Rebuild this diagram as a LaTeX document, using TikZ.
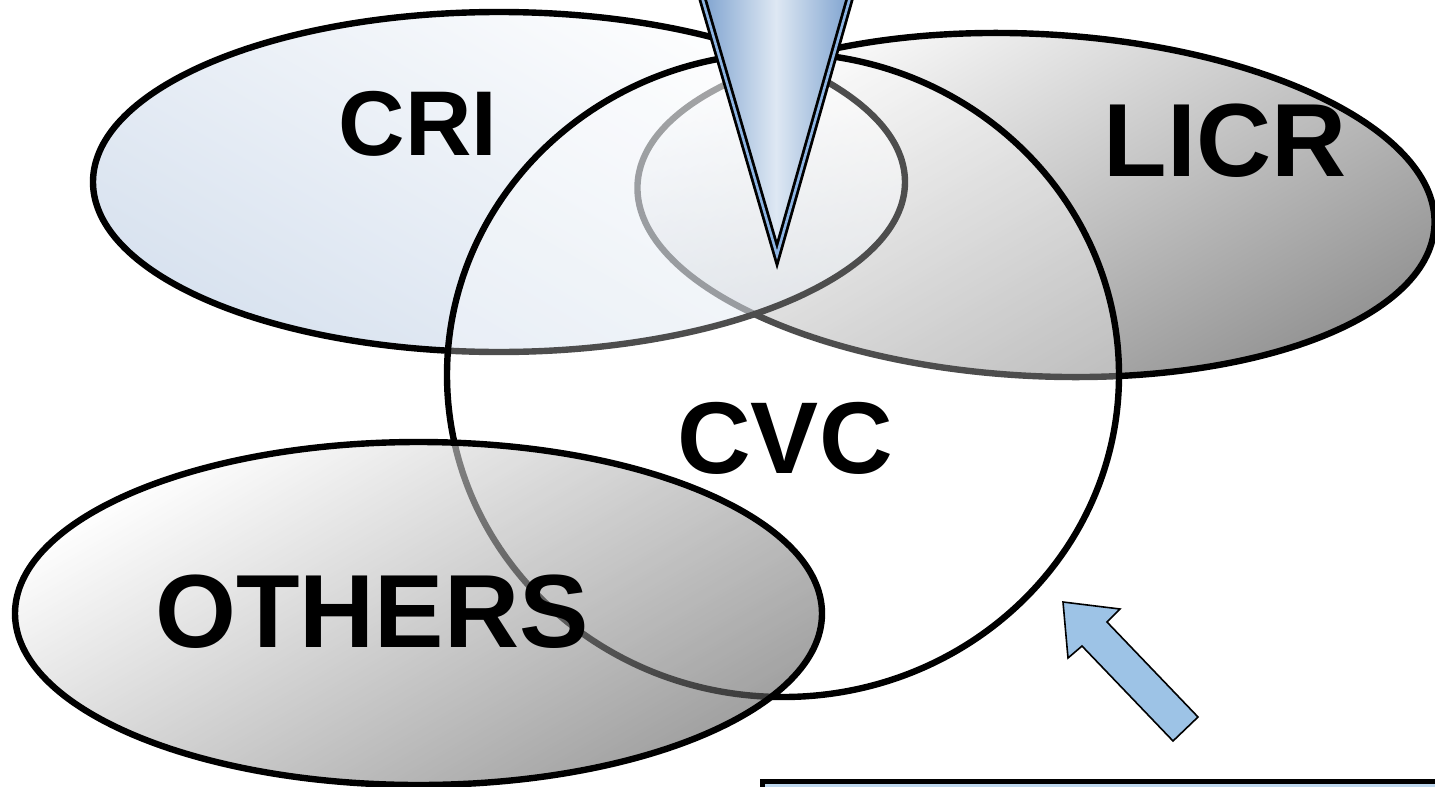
\documentclass[tikz,border=0pt]{standalone}
\usepackage{fontspec}
\setmainfont{Liberation Sans}
\definecolor{cripale}{RGB}{178,198,224}
\definecolor{tipblue}{RGB}{120,158,205}
\definecolor{tiplight}{RGB}{222,232,243}
\definecolor{tipstrip}{RGB}{141,180,226}
\definecolor{arrowblue}{RGB}{157,195,230}
\definecolor{boxblue}{RGB}{189,215,238}
\begin{document}
\begin{tikzpicture}[x=0.5pt, y=-0.5pt,
outline/.style={draw=black, line width=3.2pt},
greyset/.style={outline, top color=white, bottom color=black!42, shading angle=30},
setname/.style={font=\bfseries\fontsize{#1pt}{#1pt}\selectfont, inner sep=0pt},
pointer/.style={draw=black, line width=1.4pt, double=tipstrip, double distance=1.3pt,
  left color=tipblue, right color=tipblue, middle color=tiplight, line join=miter},
]
\useasboundingbox (0,0) rectangle (1435,787);
% the four sets
\shadedraw[greyset, rotate around={-3:(1036,205)}] (1036,205) ellipse [x radius=399, y radius=171];
\shadedraw[outline, fill opacity=0.5, top color=white, bottom color=cripale, shading angle=-30]
  (499,182) ellipse [x radius=406, y radius=170];
\draw[outline, fill=white, fill opacity=0.3] (783,375) ellipse [x radius=336, y radius=322];
\shadedraw[greyset, fill opacity=0.6, bottom color=black!62, shading angle=30]
  (418.5,613.5) ellipse [x radius=403.5, y radius=171.5];
% names
\node[setname=46] (cri) at (418,124) {CRI};
\node[setname=52] (licr) at (1225,141) {LICR};
\node[setname=51] (cvc) at (785,438) {CVC};
\node[setname=52] (others) at (372,612) {OTHERS};
% pointers
\shadedraw[pointer] (697,-20) -- (777,255) -- (855,-20) -- cycle;
\draw[line width=0.8pt, fill=arrowblue, line join=miter]
  (1063,602) -- (1120,609) -- (1107,622) -- (1198,717) -- (1173,741) -- (1082,646) -- (1068,658) -- cycle;
\draw[line width=2.8pt, fill=boxblue] (762.5,781.5) rectangle (1460,830);
\end{tikzpicture}
\end{document}
